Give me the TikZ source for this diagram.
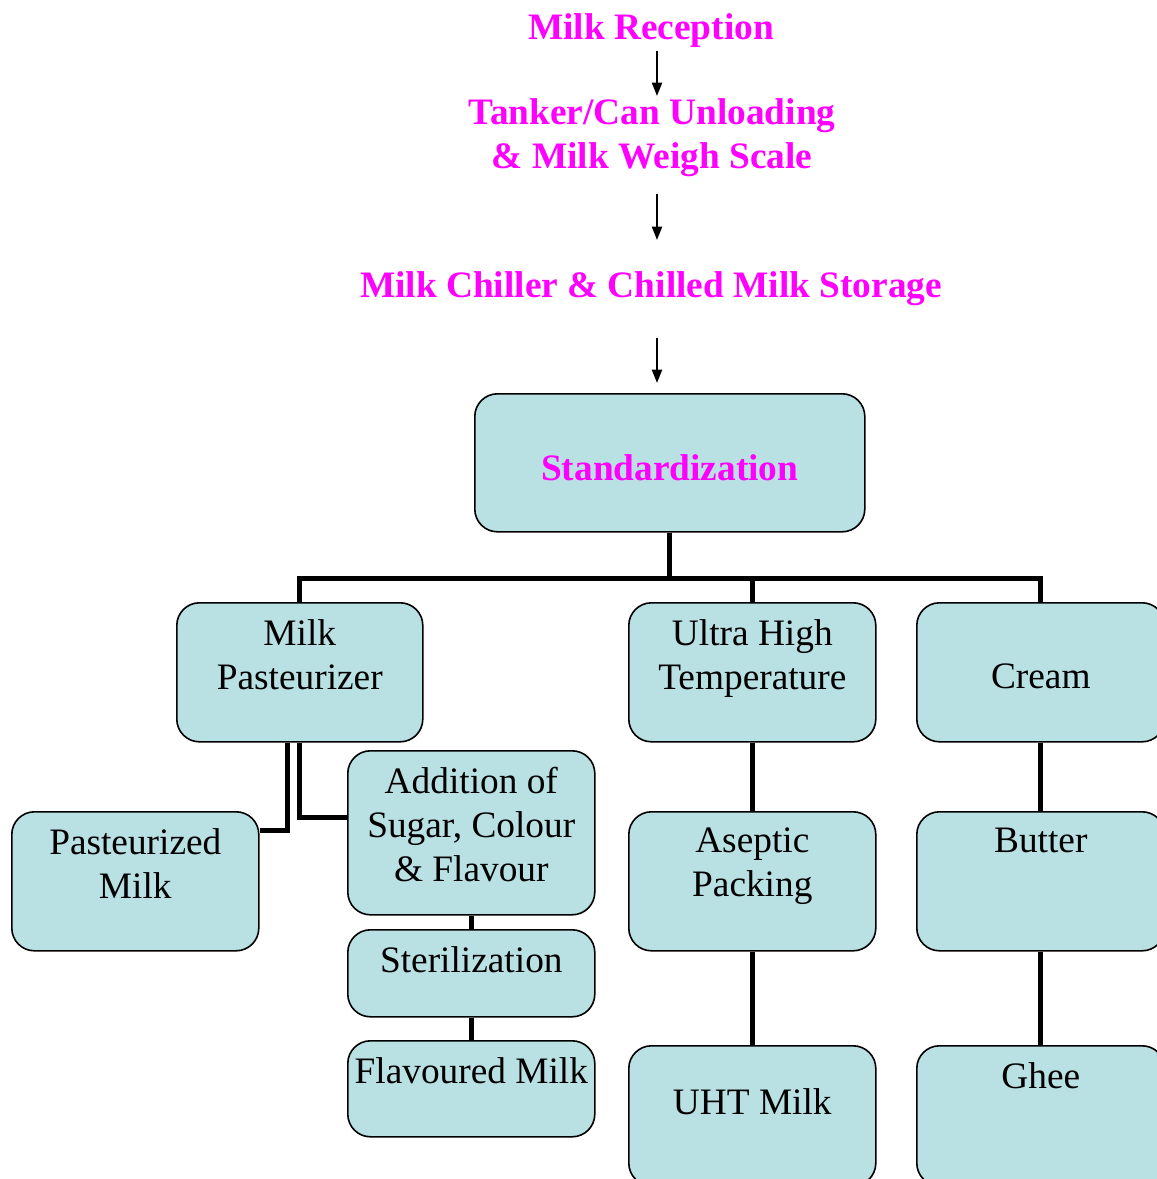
\documentclass[tikz,border=0pt]{standalone}
\usepackage{fontspec}
\setmainfont{Liberation Serif}
\usetikzlibrary{arrows.meta,positioning}
\definecolor{boxfill}{RGB}{185,224,227}
\definecolor{headmag}{RGB}{255,0,255}
\newdimen\pxu \pxu=0.75pt
\newcommand{\boxfont}{\fontsize{28}{33}\selectfont}

\begin{document}
\begin{tikzpicture}[
    x=0.75pt, y=-0.75pt,
    head/.style={font=\bfseries\boxfont, text=headmag, align=center, inner sep=2pt},
    box/.style={draw, line width=1.2pt, fill=boxfill, rounded corners=17pt, anchor=north west, inner sep=0pt},
    lbl/.style={anchor=north, align=center, inner sep=12.75pt, font=\boxfont},
    mid/.style={anchor=center, align=center, inner sep=0pt, font=\boxfont},
    arrow/.style={-{Triangle[length=10pt,width=7.5pt]}, line width=1.5pt},
    conn/.style={line width=3.75pt}
  ]
    \useasboundingbox (0,0) rectangle (1157,1179);
    \clip (0,0) rectangle (1157,1179);

    % Reception chain
    \node[head] (rcp) at (651,31) {Milk Reception};
    \node[head] (tank) at (652,138) {Tanker/Can Unloading\\\& Milk Weigh Scale};
    \node[head] (chill) at (651,289) {Milk Chiller \& Chilled Milk Storage};

    % Boxes
    \node[box, minimum width=390\pxu, minimum height=138\pxu,
      label={[head, anchor=center, yshift=-5\pxu]center:Standardization}] (stdz) at (474,393) {};
    \node[box, minimum width=246\pxu, minimum height=139\pxu,
      label={[lbl]north:Milk\\Pasteurizer}] (pzr) at (176,602) {};
    \node[box, minimum width=247\pxu, minimum height=139\pxu,
      label={[lbl]north:Ultra High\\Temperature}] (uht) at (628,602) {};
    \node[box, minimum width=248\pxu, minimum height=139\pxu,
      label={[mid, yshift=-4\pxu]center:Cream}] (cream) at (916,602) {};
    \node[box, minimum width=247\pxu, minimum height=139\pxu,
      label={[lbl]north:Pasteurized\\Milk}] (pmilk) at (11,811) {};
    \node[box, minimum width=247\pxu, minimum height=164\pxu,
      label={[lbl]north:Addition of\\Sugar, Colour\\\& Flavour}] (add) at (347,750) {};
    \node[box, minimum width=247\pxu, minimum height=139\pxu,
      label={[lbl]north:Aseptic\\Packing}] (asep) at (628,811) {};
    \node[box, minimum width=248\pxu, minimum height=139\pxu,
      label={[lbl]north:Butter}] (butter) at (916,811) {};
    \node[box, minimum width=247\pxu, minimum height=87\pxu,
      label={[lbl]north:Sterilization}] (steril) at (347,929) {};
    \node[box, minimum width=247\pxu, minimum height=96\pxu,
      label={[lbl]north:Flavoured Milk}] (flav) at (347,1040) {};
    \node[box, minimum width=247\pxu, minimum height=140\pxu,
      label={[lbl, yshift=-26\pxu]north:UHT Milk}] (uhtm) at (628,1045) {};
    \node[box, minimum width=248\pxu, minimum height=140\pxu,
      label={[lbl]north:Ghee}] (ghee) at (916,1045) {};

    % Arrows
    \draw[arrow] ([xshift=6\pxu]rcp.south) -- ([xshift=6\pxu]rcp.south |- tank.north);
    \draw[arrow, shorten <=14\pxu, shorten >=29\pxu] ([xshift=5\pxu]tank.south) -- ([xshift=5\pxu]tank.south |- chill.north);
    \draw[arrow, shorten <=29\pxu, shorten >=10\pxu] ([xshift=6\pxu]chill.south) -- ([xshift=6\pxu]chill.south |- stdz.north);

    % Connectors
    \draw[conn] (stdz.south) -- ++(0,46) coordinate (split);
    \draw[conn] (pzr.north) |- (split) -| (cream.north);
    \draw[conn] (uht.north) -- (uht.north |- split);
    \draw[conn] ([xshift=-12\pxu]pzr.south) |- ([yshift=51\pxu]pmilk.east);
    \draw[conn] (pzr.south) |- ([yshift=15\pxu]add.west);
    \draw[conn] (add.south) -- (steril.north);
    \draw[conn] (steril.south) -- (flav.north);
    \draw[conn] (uht.south) -- (asep.north);
    \draw[conn] (asep.south) -- (uhtm.north);
    \draw[conn] (cream.south) -- (butter.north);
    \draw[conn] (butter.south) -- (ghee.north);
  \end{tikzpicture}
\end{document}
